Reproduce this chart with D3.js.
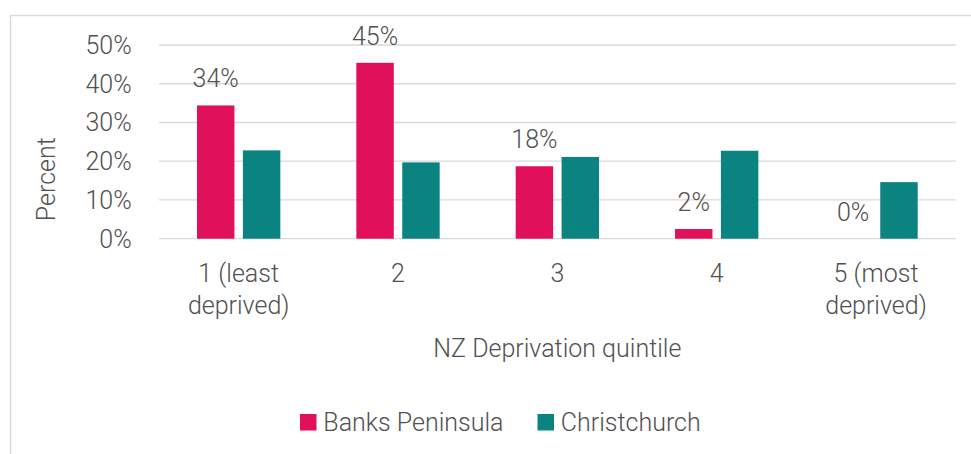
<!DOCTYPE html>
<html>
<head>
<meta charset="utf-8">
<script src="https://cdn.jsdelivr.net/npm/d3@7"></script>
<style>
  html, body { margin: 0; padding: 0; background: #fff; }
  svg text { font-family: Roboto, "Open Sans", sans-serif; font-weight: 300; fill: #505050; }
</style>
</head>
<body>
<svg id="chart" width="971" height="454"></svg>
<script>
// ---- data ----
const categories = ["1 (least|deprived)", "2", "3", "4", "5 (most|deprived)"];
const seriesNames = ["Banks Peninsula", "Christchurch"];
const banksPeninsula = [34.4, 45.4, 18.7, 2.5, 0];
const christchurch = [22.8, 19.7, 21.1, 22.7, 14.6];
const yTicks = [0, 10, 20, 30, 40, 50];
const colors = ["#E0115A", "#0B8481"];
const xTitle = "NZ Deprivation quintile";
const yTitle = "Percent";

// ---- layout ----
const svg = d3.select("#chart");
const plot = { left: 159, right: 955.7, top: 45, bottom: 238.7 };

// outer frame (only top/left visible in the picture)
svg.append("rect")
  .attr("x", 10.5).attr("y", 15.5)
  .attr("width", 1100).attr("height", 600)
  .attr("fill", "none").attr("stroke", "#d9d9d9").attr("stroke-width", 1.4);

const x = d3.scaleBand().domain(categories).range([plot.left, plot.right]).padding(0);
const y = d3.scaleLinear().domain([0, 50]).range([plot.bottom, plot.top]);

// gridlines
svg.append("g").selectAll("line").data(yTicks).join("line")
  .attr("x1", plot.left).attr("x2", plot.right)
  .attr("y1", d => y(d)).attr("y2", d => y(d))
  .attr("stroke", "#d9d9d9").attr("stroke-width", 1.3);

// y tick labels
svg.append("g").selectAll("text").data(yTicks).join("text")
  .attr("x", 131.7).attr("y", d => y(d)).attr("dy", "0.36em")
  .attr("text-anchor", "end").attr("font-size", 25)
  .text(d => d + "%");

// bars
const bw = x.bandwidth() * 0.235;
const gap = x.bandwidth() * 0.053;
const series = [banksPeninsula, christchurch];
series.forEach((vals, si) => {
  svg.append("g").selectAll("rect").data(vals).join("rect")
    .attr("x", (d, i) => {
      const c = x(categories[i]) + x.bandwidth() / 2;
      return si === 0 ? c - gap / 2 - bw : c + gap / 2;
    })
    .attr("y", d => y(d))
    .attr("width", bw)
    .attr("height", d => y(0) - y(d))
    .attr("fill", colors[si]);
});

// data labels (Banks Peninsula)
svg.append("g").selectAll("text").data(banksPeninsula).join("text")
  .attr("x", (d, i) => x(categories[i]) + x.bandwidth() / 2 - gap / 2 - bw / 2)
  .attr("y", d => y(d) - 18)
  .attr("text-anchor", "middle").attr("font-size", 25)
  .text(d => Math.floor(d) + "%");

// x category labels
const xl = svg.append("g");
categories.forEach(c => {
  const lines = c.split("|");
  const t = xl.append("text")
    .attr("x", x(c) + x.bandwidth() / 2).attr("y", 282)
    .attr("text-anchor", "middle").attr("font-size", 25);
  lines.forEach((ln, li) => {
    t.append("tspan").attr("x", x(c) + x.bandwidth() / 2)
      .attr("dy", li === 0 ? 0 : 31.5).text(ln);
  });
});

// axis titles
svg.append("text")
  .attr("x", (plot.left + plot.right) / 2).attr("y", 356.7)
  .attr("text-anchor", "middle").attr("font-size", 25)
  .text(xTitle);
svg.append("text")
  .attr("transform", "translate(55,179.2) rotate(-90)")
  .attr("text-anchor", "middle").attr("font-size", 25)
  .text(yTitle);

// legend
const lg = svg.append("g");
let lx = 300;
seriesNames.forEach((name, i) => {
  lg.append("rect").attr("x", lx).attr("y", 414).attr("width", 16.5).attr("height", 16.5)
    .attr("fill", colors[i]);
  const t = lg.append("text").attr("x", lx + 23.3).attr("y", 430.7)
    .attr("font-size", 25).text(name);
  lx = lx + 23.3 + t.node().getComputedTextLength() + 34;
});
</script>
</body>
</html>
